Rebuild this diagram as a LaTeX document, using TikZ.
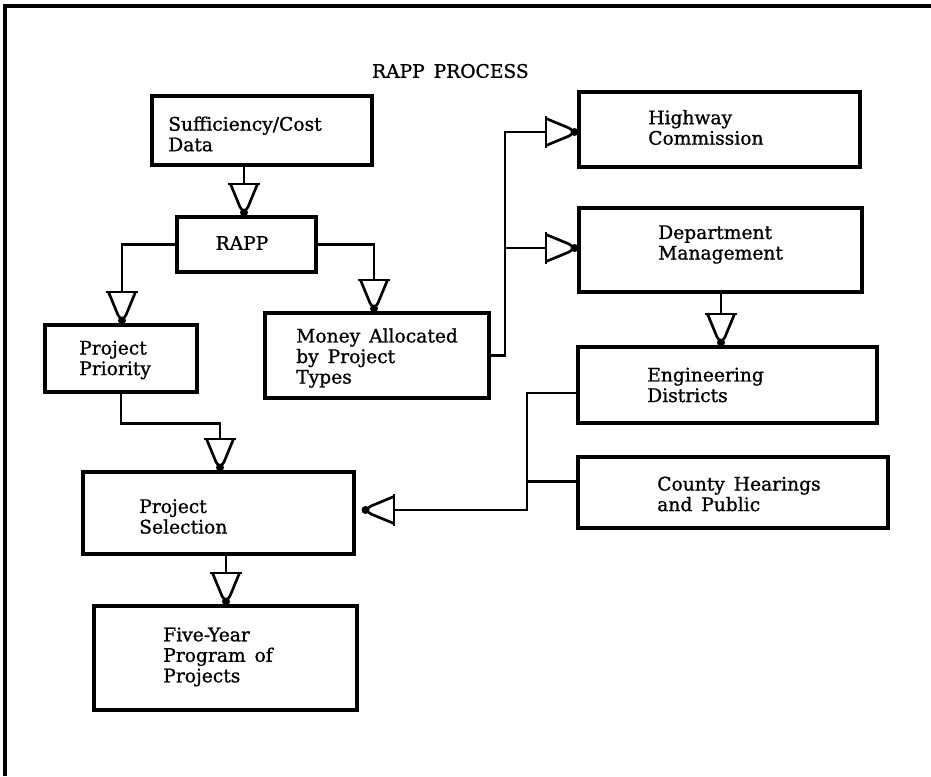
\documentclass[tikz,border=0pt]{standalone}
\usepackage{fontspec}
\setmainfont{DejaVu Serif}[WordSpace=1.5, FakeBold=1]
\begin{document}
\begin{tikzpicture}[x=0.75pt,y=-0.75pt,
  box/.style={draw, line width=2.5pt, inner sep=0pt},
  lbl/.style={inner sep=0pt, align=left, anchor=west,
    font=\fontsize{14}{15.4}\selectfont},
  conn/.style={line width=2.1pt, line join=miter},
  funnel/.pic={
    \draw[line width=2.1pt] (-16,0) -- (16,0);
    \draw[line width=2pt, line join=miter] (-13.5,0) -- (-4,23) -- (0,28.5) -- (4,23) -- (13.5,0);
    \fill (0,28.5) circle (4);
  }]
\useasboundingbox (0,0) rectangle (931,776);

% outer frame (top and left edges)
\draw[line width=2.4pt] (5,776) -- (5,6) -- (931,6);

% title
\node[font=\fontsize{14}{15.4}\selectfont, inner sep=0pt, anchor=east] (title) at (529,71) {RAPP PROCESS};

% boxes
\node[box, minimum width=165pt,    minimum height=51.75pt] (suff)    at (262,130.5) {};
\node[box, minimum width=104.25pt, minimum height=41.25pt] (rapp)    at (246.5,244.5) {};
\node[box, minimum width=114pt,    minimum height=50.25pt] (prio)    at (121,358.5) {};
\node[box, minimum width=203.25pt, minimum height=61.5pt]  (sel)     at (218.5,513) {};
\node[box, minimum width=197.25pt, minimum height=78pt]    (five)    at (225.5,658) {};
\node[box, minimum width=168pt,    minimum height=63.75pt] (money)   at (377,355.5) {};
\node[box, minimum width=210.75pt, minimum height=56.25pt] (highway) at (719.5,129.5) {};
\node[box, minimum width=212.25pt, minimum height=63pt]    (dept)    at (720.5,250) {};
\node[box, minimum width=224.25pt, minimum height=57pt]    (eng)     at (727.5,385) {};
\node[box, minimum width=232.5pt,  minimum height=53.25pt] (county)  at (733,492.5) {};

% box texts
\node[lbl] (suff-t)    at (168,134)   {Sufficiency/Cost\\Data};
\node[lbl, anchor=center] (rapp-t) at (242,243) {RAPP};
\node[lbl] (prio-t)    at (79,360)    {Project\\Priority};
\node[lbl] (sel-t)     at (139,516.5) {Project\\Selection};
\node[lbl] (five-t)    at (163,657)   {Five-Year\\Program of\\Projects};
\node[lbl] (money-t)   at (296,358)   {Money Allocated\\by Project\\Types};
\node[lbl] (highway-t) at (648,127.5) {Highway\\Commission};
\node[lbl] (dept-t)    at (658,244.5) {Department\\Management};
\node[lbl] (eng-t)     at (647,385)   {Engineering\\Districts};
\node[lbl] (county-t)  at (657,494)   {County Hearings\\and Public};

% funnel positions (bar of each arrow symbol)
\coordinate (sbar)   at (244,184);
\coordinate (pbar)   at (122,292);
\coordinate (mbar)   at (374,280);
\coordinate (psbar)  at (220,439);
\coordinate (fbar)   at (226,573);
\coordinate (hwbar)  at (546,132);
\coordinate (dmbar)  at (546,248);
\coordinate (debar)  at (721,314);
\coordinate (selbar) at (394,510);
\coordinate (spine)  at (505,0);
\coordinate (rspine) at (527,0);

% connectors
\draw[conn] (suff.south -| sbar) -- (sbar);
\draw[conn] (rapp.west) -| (pbar);
\draw[conn] (rapp.east) -| (mbar);
\draw[conn] (prio.south) -- ++(0,30) -| (psbar);
\draw[conn] (sel.south -| fbar) -- (fbar);
\draw[conn] (money.east) -- (money.east -| spine) |- (hwbar);
\draw[conn] (spine |- dmbar) -- (dmbar);
\draw[conn] (dept.south -| debar) -- (debar);
\draw[conn] ([yshift=-6pt]eng.west) -- ([yshift=-6pt]eng.west -| rspine) |- (selbar);
\draw[conn] ([yshift=8pt]county.west) -- ([yshift=8pt]county.west -| rspine);

% arrow symbols
\pic at (sbar) {funnel};
\pic at (pbar) {funnel};
\pic at (mbar) {funnel};
\pic at (psbar) {funnel};
\pic at (fbar) {funnel};
\pic at (debar) {funnel};
\pic[rotate=90] at (hwbar) {funnel};
\pic[rotate=90] at (dmbar) {funnel};
\pic[rotate=-90] at (selbar) {funnel};
\end{tikzpicture}
\end{document}
